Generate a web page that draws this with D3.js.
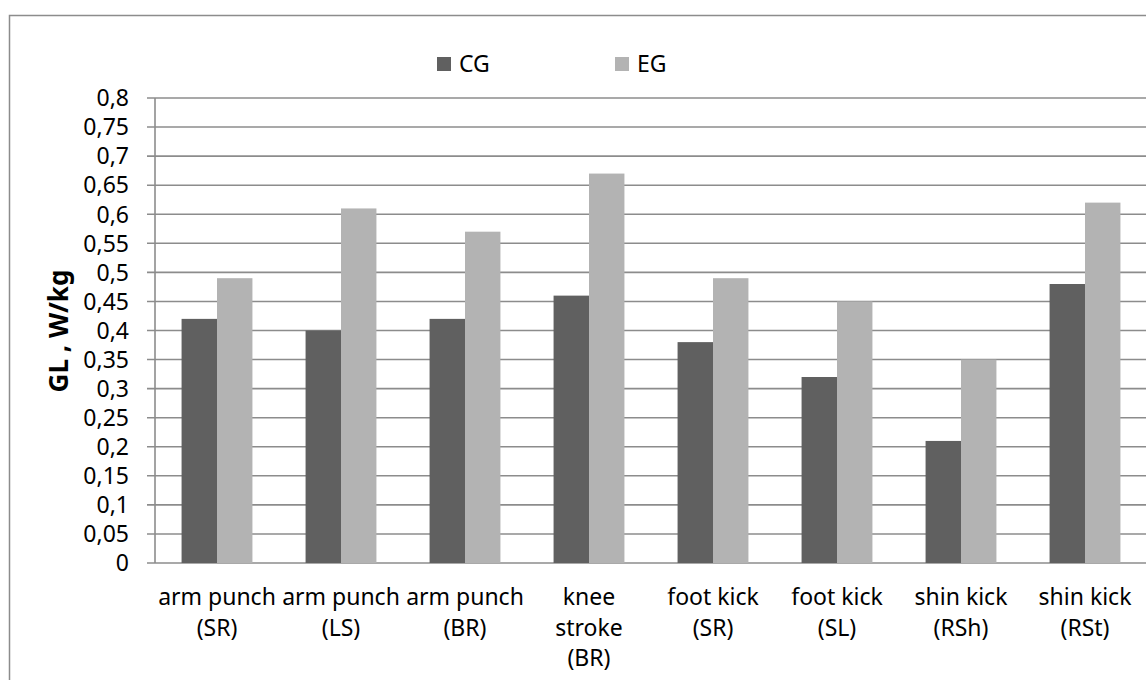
<!DOCTYPE html>
<html><head><meta charset="utf-8">
<script src="https://cdn.jsdelivr.net/npm/d3@7/dist/d3.min.js"></script>
<style>
html,body{margin:0;padding:0;background:#fff;}
svg{display:block;}
text{font-family:"Noto Sans",sans-serif;fill:#000;}
</style></head>
<body>
<svg id="chart" width="1146" height="680"></svg>
<script>
const categories = ["arm punch\n(SR)","arm punch\n(LS)","arm punch\n(BR)","knee\nstroke\n(BR)","foot kick\n(SR)","foot kick\n(SL)","shin kick\n(RSh)","shin kick\n(RSt)"];
const seriesNames = ["CG","EG"];
const cgValues = [0.42,0.40,0.42,0.46,0.38,0.32,0.21,0.48];
const egValues = [0.49,0.61,0.57,0.67,0.49,0.45,0.35,0.62];
const yTicks = [0,0.05,0.1,0.15,0.2,0.25,0.3,0.35,0.4,0.45,0.5,0.55,0.6,0.65,0.7,0.75,0.8];
const yTitle = "GL , W/kg";

const colors = {CG:"#606060", EG:"#b3b3b3"};
const svg = d3.select("#chart");
const m = {left:155, top:98, right:-1, bottom:117};
const W = 1146 - m.left - m.right, H = 680 - m.top - m.bottom;

// chart border
svg.append("path").attr("d","M9.5,690 L9.5,15.5 L1160,15.5").attr("fill","none").attr("stroke","#8c8c8c").attr("stroke-width",1.5);

const g = svg.append("g").attr("transform",`translate(${m.left},${m.top})`);
const y = d3.scaleLinear().domain([0,0.8]).range([H,0]);
const x0 = d3.scaleBand().domain(categories).range([0,W]);
const bw = x0.bandwidth();
const barW = bw/3.5;
const x1 = d3.scaleBand().domain(seriesNames).range([barW*0.75, bw-barW*0.75]);

// gridlines
g.append("g").selectAll("line").data(yTicks).join("line")
  .attr("x1",-8).attr("x2",W+5).attr("y1",d=>y(d)).attr("y2",d=>y(d))
  .attr("stroke","#8c8c8c").attr("stroke-width",1.6);
// y axis line
g.append("line").attr("x1",0).attr("x2",0).attr("y1",0).attr("y2",H).attr("stroke","#8c8c8c").attr("stroke-width",1.6);

// tick labels
const fmt = d => String(+d.toFixed(2)).replace(".",",");
g.append("g").selectAll("text").data(yTicks).join("text")
  .attr("x",-26).attr("y",d=>y(d)).attr("dy","0.36em").attr("text-anchor","end")
  .style("font-size","23px").text(fmt);

// bars
const rows = categories.map((c,i)=>({c, vals:[{s:"CG",v:cgValues[i]},{s:"EG",v:egValues[i]}]}));
const grp = g.append("g").selectAll("g").data(rows).join("g").attr("transform",d=>`translate(${x0(d.c)},0)`);
grp.selectAll("rect").data(d=>d.vals).join("rect")
  .attr("x",d=>x1(d.s)).attr("width",x1.bandwidth())
  .attr("y",d=>y(d.v)).attr("height",d=>H-y(d.v))
  .attr("fill",d=>colors[d.s]);

// x labels
const xl = g.append("g").selectAll("text").data(categories).join("text")
  .attr("text-anchor","middle").attr("transform",d=>`translate(${x0(d)+bw/2},${H+42})`)
  .style("font-size","23px");
xl.selectAll("tspan").data(d=>d.split("\n")).join("tspan")
  .attr("x",0).attr("dy",(d,i)=>i===0?0:30.5).text(d=>d);

// y title
svg.append("text").attr("transform","translate(68,331) rotate(-90)").attr("text-anchor","middle")
  .style("font-size","26px").style("font-weight","bold").text(yTitle);

// legend
const legX = [437,615];
const lg = svg.append("g").selectAll("g").data(seriesNames).join("g").attr("transform",(d,i)=>`translate(${legX[i]},57)`);
lg.append("rect").attr("width",14).attr("height",14).attr("fill",d=>colors[d]);
lg.append("text").attr("x",22).attr("y",15).style("font-size","23px").text(d=>d);
</script>
</body></html>
